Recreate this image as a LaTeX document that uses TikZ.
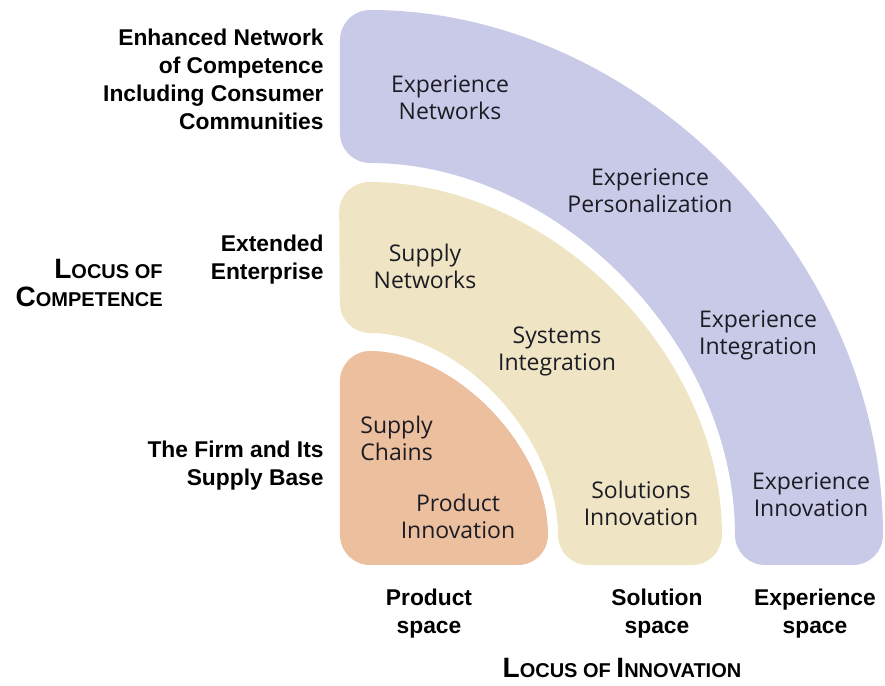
\documentclass[tikz,border=0pt]{standalone}
\usepackage{fontspec}
\setmainfont{Liberation Sans}
\newfontfamily\zonefont{Open Sans}
\usetikzlibrary{positioning}
\definecolor{expblue}{RGB}{200,202,232}
\definecolor{solbeige}{RGB}{239,229,196}
\definecolor{prodorange}{RGB}{236,191,158}
\definecolor{inkdark}{RGB}{28,28,36}
\newcommand{\bigsc}[2]{{\fontsize{14}{16}\selectfont #1}{\fontsize{10}{16}\selectfont #2}}

\begin{document}
\begin{tikzpicture}[x=0.5pt,y=0.5pt,
  zone/.style={rounded corners=15pt},
  inside/.style={font=\zonefont\fontsize{11.5}{13.5}\selectfont,text=inkdark,align=center,inner sep=0pt},
  sidelbl/.style={font=\bfseries\fontsize{11.4}{14}\selectfont,align=right,anchor=east,inner sep=0pt},
  spacelbl/.style={font=\bfseries\fontsize{11.4}{14}\selectfont,align=center,inner sep=0pt}]
\useasboundingbox (-340,-121) rectangle (545,565);
% the three zones
\fill[expblue,zone] (470,0) -- (543,0) arc[start angle=0,end angle=90,x radius=543,y radius=555]
  -- (0,402) arc[start angle=90,end angle=0,x radius=395,y radius=402] -- cycle;
\fill[solbeige,zone] (300,0) -- (382,0) arc[start angle=0,end angle=90,radius=383]
  -- (0,232) arc[start angle=90,end angle=0,x radius=218,y radius=232] -- cycle;
\fill[prodorange,zone] (0,0) -- (208,0) arc[start angle=0,end angle=90,x radius=208,y radius=214] -- cycle;
% labels inside the zones
\node[inside] (expnet) at (110,467) {Experience\\Networks};
\node[inside] (exppers) at (310,374) {Experience\\Personalization};
\node[inside] (expint) at (418,230) {Experience\\Integration};
\node[inside] (expinno) at (471,70) {Experience\\Innovation};
\node[inside] (supnet) at (85,299) {Supply\\Networks};
\node[inside] (sysint) at (217,214) {Systems\\Integration};
\node[inside] (solinno) at (301,62) {Solutions\\Innovation};
\node[inside,anchor=west,align=left] (supch) at (20,127) {Supply\\Chains};
\node[inside] (prodinno) at (118,49) {Product\\Innovation};
% locus of competence
\node[sidelbl] (enhanced) at (-16,486) {Enhanced Network\\of Competence\\Including Consumer\\Communities};
\node[sidelbl] (extended) at (-16,305) {Extended\\Enterprise};
\node[sidelbl] (firm) at (-16,99) {The Firm and Its\\Supply Base};
\node[sidelbl] (loccomp) at (-177,282) {\bigsc{L}{OCUS OF}\\\bigsc{C}{OMPETENCE}};
% locus of innovation
\node[spacelbl] (prodsp) at (89,-49) {Product\\space};
\node[spacelbl] (solsp) at (317,-49) {Solution\\space};
\node[spacelbl] (expsp) at (475,-49) {Experience\\space};
\node[spacelbl] (locinno) at (282,-103) {\bigsc{L}{OCUS OF }\bigsc{I}{NNOVATION}};
\end{tikzpicture}
\end{document}
